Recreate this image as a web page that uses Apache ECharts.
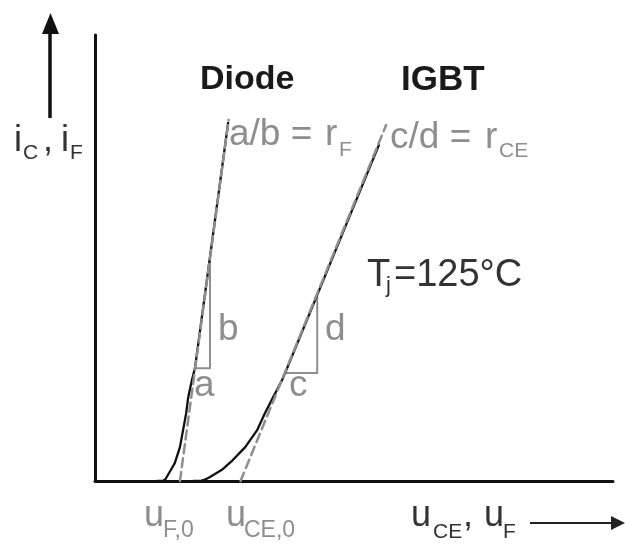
<!DOCTYPE html>
<html>
<head>
<meta charset="utf-8">
<script src="https://cdn.jsdelivr.net/npm/echarts@6/dist/echarts.min.js"></script>
<style>
html,body{margin:0;padding:0;background:#fff;}
#c{width:625px;height:545px;}
</style>
</head>
<body>
<div id="c"></div>
<script>
// Schematic axes: x = voltage (arbitrary units 0..10), y = current (arbitrary units 0..10)
var xRange = [0, 10];
var yRange = [0, 10];

// Diode forward characteristic (x, y)
var diodeCurve = [[1.20,0],[1.31,0],[1.36,0.04],[1.41,0.14],[1.48,0.28],[1.54,0.40],[1.64,0.76],[1.70,1.14],[1.76,1.52],[1.80,1.88],[1.87,2.26],[1.93,2.53],[2.57,8.03]];
// IGBT output characteristic (x, y)
var igbtCurve = [[1.90,0],[2.03,0],[2.12,0.03],[2.22,0.09],[2.45,0.25],[2.66,0.47],[2.90,0.76],[3.13,1.14],[3.28,1.52],[3.44,1.88],[3.61,2.26],[3.67,2.42],[5.48,7.53]];
// Tangent (linearisation) lines: threshold voltage on axis -> top
var diodeTangent = [[1.64,0],[2.58,8.10]];
var igbtTangent = [[2.81,0],[5.62,7.98]];
// Slope triangles (a/b, c/d)
var diodeTriangle = [[1.93,2.53],[2.22,2.53],[2.22,4.90]];
var igbtTriangle = [[3.67,2.42],[4.29,2.42],[4.29,4.13]];

var GRAY = '#8e8e8e';
var DARK = '#333333';
var FONT = '"Liberation Sans", Arial, Helvetica, sans-serif';

function txt(x, baseline, s, size, color, bold) {
  return {
    type: 'text', x: x, y: baseline - 0.35 * size, z: 10,
    style: {
      text: s, fill: color,
      font: (bold ? 'bold ' : '') + size + 'px ' + FONT,
      verticalAlign: 'middle', align: 'left'
    }
  };
}

var graphics = [
  // vertical arrow (current)
  {type:'line', shape:{x1:50, y1:118, x2:50, y2:30}, style:{stroke:'#111', lineWidth:3.5}},
  {type:'polygon', shape:{points:[[42,34],[50.5,13],[59,34]]}, style:{fill:'#111'}},
  // horizontal arrow (voltage)
  {type:'line', shape:{x1:530, y1:523, x2:614, y2:523}, style:{stroke:'#222', lineWidth:2}},
  {type:'polygon', shape:{points:[[611,516],[625,523],[611,530]]}, style:{fill:'#222'}},

  txt(14, 154, 'i', 36, DARK),
  txt(23, 161, 'C', 21, DARK),
  txt(43, 154, ',', 36, DARK),
  txt(61, 154, 'i', 36, DARK),
  txt(70, 161, 'F', 21, DARK),

  txt(200, 92, 'Diode', 34, '#1a1a1a', true),
  txt(401, 93, 'IGBT', 35, '#1a1a1a', true),

  txt(229, 148, 'a/b =', 37, GRAY),
  txt(325, 148, 'r', 37, GRAY),
  txt(339, 158, 'F', 21, GRAY),

  txt(390, 151, 'c/d =', 37, GRAY),
  txt(485, 151, 'r', 37, GRAY),
  txt(499, 159, 'CE', 21, GRAY),

  txt(367, 289, 'T', 38, DARK),
  txt(386, 294, 'j', 22, DARK),
  txt(394, 289, '=125\u00B0C', 38, DARK),

  txt(218, 343, 'b', 37, GRAY),
  txt(325, 343, 'd', 37, GRAY),
  txt(194, 399, 'a', 37, GRAY),
  txt(289, 399, 'c', 37, GRAY),

  txt(144, 529, 'u', 36, GRAY),
  txt(163, 539, 'F,0', 23, GRAY),
  txt(226, 529, 'u', 36, GRAY),
  txt(244, 539, 'CE,0', 23, GRAY),

  txt(411, 529, 'u', 36, DARK),
  txt(433, 540, 'CE', 21, DARK),
  txt(463, 529, ',', 36, DARK),
  txt(484, 529, 'u', 36, DARK),
  txt(503, 540, 'F', 21, DARK)
];

function lineSeries(data, color, width, type, z) {
  return {
    type: 'line', data: data, showSymbol: false, symbol: 'none',
    clip: false, z: z, silent: true, animation: false,
    lineStyle: {color: color, width: width, type: type, cap: 'round', join: 'round'}
  };
}

var chart = echarts.init(document.getElementById('c'), null, {renderer: 'canvas'});
chart.setOption({
  backgroundColor: '#ffffff',
  animation: false,
  grid: {left: 95, top: 35, width: 518, height: 446, containLabel: false},
  xAxis: {
    type: 'value', min: xRange[0], max: xRange[1],
    axisLine: {show: true, onZero: false, lineStyle: {color: '#111', width: 3}},
    axisTick: {show: false}, axisLabel: {show: false}, splitLine: {show: false}
  },
  yAxis: {
    type: 'value', min: yRange[0], max: yRange[1],
    axisLine: {show: true, onZero: false, lineStyle: {color: '#111', width: 3}},
    axisTick: {show: false}, axisLabel: {show: false}, splitLine: {show: false}
  },
  series: [
    lineSeries(diodeTriangle, GRAY, 2, 'solid', 2),
    lineSeries(igbtTriangle, GRAY, 2, 'solid', 2),
    lineSeries(diodeCurve, '#111', 2.3, 'solid', 3),
    lineSeries(igbtCurve, '#111', 2.3, 'solid', 3),
    lineSeries(diodeTangent, GRAY, 2.5, [9, 5], 4),
    lineSeries(igbtTangent, GRAY, 2.5, [9, 5], 4)
  ],
  graphic: graphics
});
</script>
</body>
</html>
